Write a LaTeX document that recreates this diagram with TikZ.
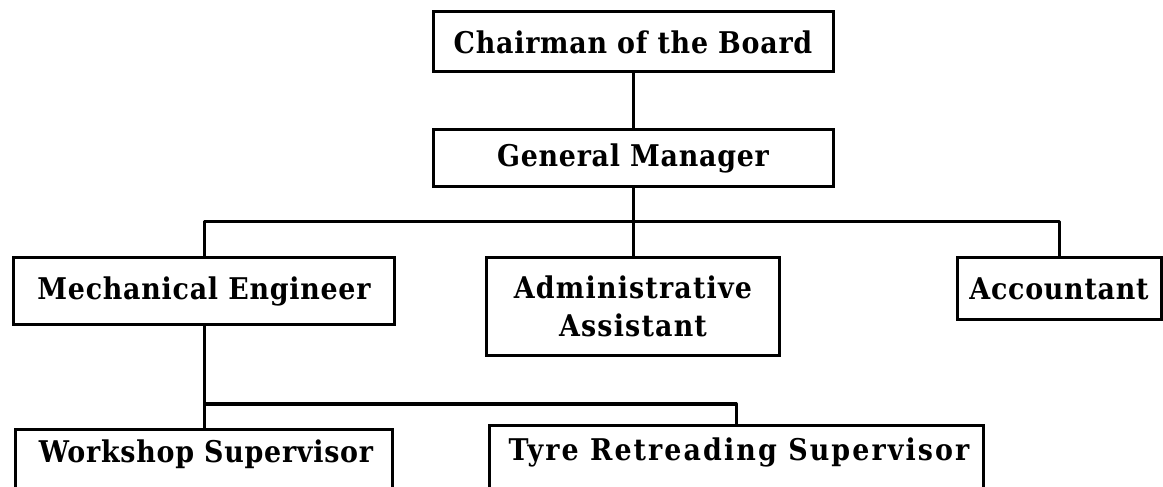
\documentclass[tikz,border=0pt]{standalone}
\usepackage{fontspec}
\setmainfont{DejaVu Serif Condensed}[LetterSpace=2.5]
\newfontfamily\spacedA[LetterSpace=4]{DejaVu Serif Condensed}
\newfontfamily\spacedB[LetterSpace=7]{DejaVu Serif Condensed}
\begin{document}
\begin{tikzpicture}[x=1bp,y=-1bp,
  post/.style={draw=black, line width=3bp, rectangle, inner sep=0pt,
    font=\fontsize{30}{38}\selectfont\bfseries, align=center},
  label/.style={font=\fontsize{30}{38}\selectfont\bfseries, inner sep=0pt},
  link/.style={draw=black, line width=3bp, line join=round}]
\useasboundingbox (0,0) rectangle (1163,487);
\clip (0,0) rectangle (1163,487);
\fill[white] (0,0) rectangle (1163,487);

% top of the chart
\node[post, minimum width=400bp, minimum height=60bp] (chair) at (633,42) {Chairman of the Board};
\node[post, minimum width=400bp, minimum height=57bp] (gm) at (633,158.5) {General Manager};

% second level
\node[post, minimum width=380bp, minimum height=67bp] (me) at (204,291.5) {Mechanical Engineer};
\node[post, minimum width=293bp, minimum height=97bp,
      font=\fontsize{30}{38}\selectfont\spacedA\bfseries] (aa) at (633,306.5) {Administrative\\Assistant};
\node[post, minimum width=204bp, minimum height=62bp] (acc) at (1059,289) {Accountant};

% third level (boxes run past the lower edge)
\node[post, minimum width=376bp, minimum height=110bp, anchor=north] (ws) at (204,428) {};
\node[label] (wst) at (206,454) {Workshop Supervisor};
\node[post, minimum width=494bp, minimum height=110bp, anchor=north] (trs) at (736,424) {};
\node[label, font=\fontsize{30}{38}\selectfont\spacedB\bfseries] (trst) at (739,452) {Tyre Retreading Supervisor};

% reporting lines
\coordinate (busA) at (633,222);
\coordinate (busB) at (204,404);
\draw[link] (chair.south) -- (gm.north);
\draw[link] (gm.south) -- (busA);
\draw[link] (me.north) |- (busA) -| (acc.north);
\draw[link] (busA) -- (aa.north);
\draw[link] (me.south) -- (busB) -| (trs.north);
\draw[link] (busB) -- (ws.north);
\end{tikzpicture}
\end{document}
